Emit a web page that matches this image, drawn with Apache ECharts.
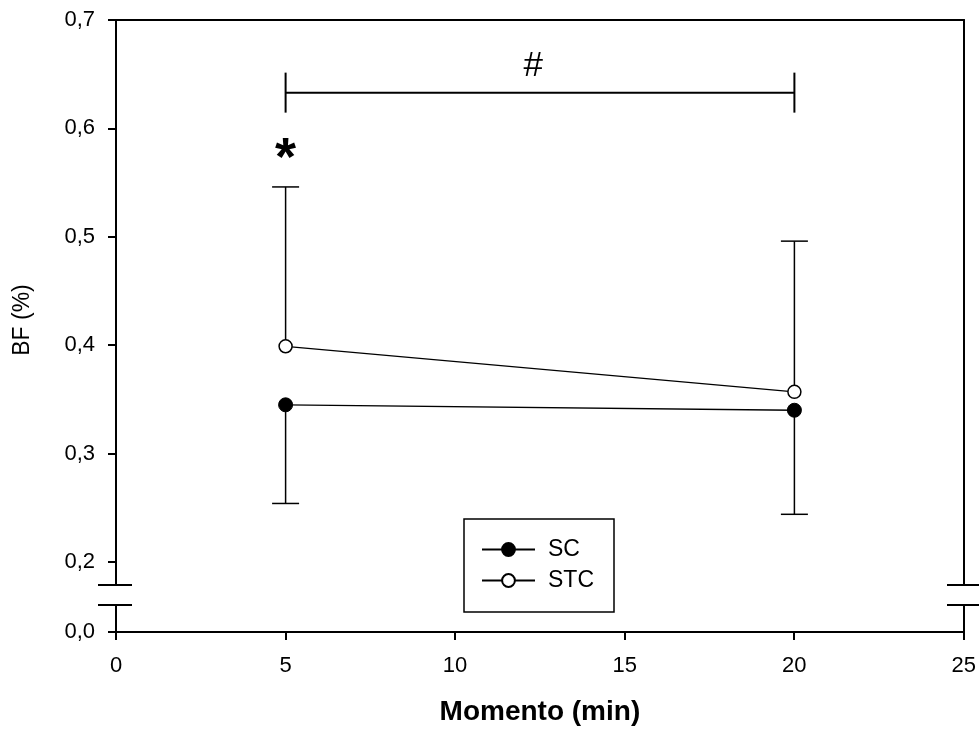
<!DOCTYPE html>
<html>
<head>
<meta charset="utf-8">
<script src="https://cdn.jsdelivr.net/npm/echarts@6/dist/echarts.min.js"></script>
<style>
  html, body { margin: 0; padding: 0; background: #fff; }
  #chart { width: 979px; height: 733px; }
</style>
</head>
<body>
<div id="chart"></div>
<script>
// Blood flow (BF, %) at two time points, mean with one-sided SD bars
const times = [5, 20];
const seriesNames = ['SC', 'STC'];
const scMean = [0.345, 0.340];
const scSD = [0.091, 0.096];
const stcMean = [0.399, 0.357];
const stcSD = [0.147, 0.139];

// Axis ticks
const xTicks = [0, 5, 10, 15, 20, 25];
const yTicksUpper = [0.2, 0.3, 0.4, 0.5, 0.6, 0.7];
const yTicksLower = [0.0];

// Annotations: bracket between the two times, and a marker over the first time
const bracket = [5, 20, 0.633];
const bracketLabel = '#';
const bracketLabelPos = [12.3, 0.657];
const starLabel = '*';
const starPos = [5, 0.571];

// Layout (pixels)
const FONT = 'Liberation Sans, Arial, sans-serif';
const GRID_L = 116, GRID_R = 15;
const UPPER_TOP = 20, UPPER_BOTTOM = 585;
const LOWER_TOP = 605, LOWER_BOTTOM = 632;
const Y_MAX = 0.7, PX_PER_UNIT = 1084;
const yUpperMin = Y_MAX - (UPPER_BOTTOM - UPPER_TOP) / PX_PER_UNIT;
const W = 979;

const fmt = v => v.toFixed(1).replace('.', ',');

const chart = echarts.init(document.getElementById('chart'), null, { renderer: 'canvas' });

function renderErrorBar(params, api) {
  const x = api.value(0);
  const p0 = api.coord([x, api.value(1)]);
  const p1 = api.coord([x, api.value(2)]);
  const cap = 13.5;
  const style = { stroke: '#000', lineWidth: 1.5 };
  return {
    type: 'group',
    children: [
      { type: 'line', shape: { x1: p0[0], y1: p0[1], x2: p1[0], y2: p1[1] }, style },
      { type: 'line', shape: { x1: p1[0] - cap, y1: p1[1], x2: p1[0] + cap, y2: p1[1] }, style }
    ]
  };
}

function renderBracket(params, api) {
  const a = api.coord([api.value(0), api.value(2)]);
  const b = api.coord([api.value(1), api.value(2)]);
  const h = 20;
  const style = { stroke: '#000', lineWidth: 2 };
  return {
    type: 'group',
    children: [
      { type: 'line', shape: { x1: a[0], y1: a[1], x2: b[0], y2: b[1] }, style },
      { type: 'line', shape: { x1: a[0], y1: a[1] - h, x2: a[0], y2: a[1] + h }, style },
      { type: 'line', shape: { x1: b[0], y1: b[1] - h, x2: b[0], y2: b[1] + h }, style }
    ]
  };
}

function renderText(params, api) {
  const p = api.coord([api.value(0), api.value(1)]);
  const d = params.dataIndex === 0
    ? { text: bracketLabel, fontSize: 35, fontWeight: 'normal' }
    : { text: starLabel, fontSize: 54, fontWeight: 'bold' };
  return {
    type: 'text',
    x: p[0], y: p[1],
    style: {
      text: d.text, fontSize: d.fontSize, fontWeight: d.fontWeight, fontFamily: FONT,
      fill: '#000', align: 'center', verticalAlign: 'middle'
    }
  };
}

const axisLine = { show: true, lineStyle: { color: '#000', width: 2 } };
const labelStyle = { color: '#000', fontSize: 22, fontFamily: FONT };

const option = {
  animation: false,
  backgroundColor: '#fff',
  grid: [
    { left: GRID_L, right: GRID_R, top: UPPER_TOP, height: UPPER_BOTTOM - UPPER_TOP },
    { left: GRID_L, right: GRID_R, top: LOWER_TOP, height: LOWER_BOTTOM - LOWER_TOP }
  ],
  xAxis: [
    {
      gridIndex: 0, type: 'value', min: 0, max: 25, position: 'top',
      axisLine, axisTick: { show: false }, axisLabel: { show: false }, splitLine: { show: false }
    },
    {
      gridIndex: 1, type: 'value', min: 0, max: 25, interval: 5, position: 'bottom',
      axisLine,
      axisTick: { show: true, length: 8, lineStyle: { color: '#000', width: 2 }, customValues: xTicks },
      axisLabel: { ...labelStyle, margin: 23, customValues: xTicks },
      splitLine: { show: false },
      name: 'Momento (min)', nameLocation: 'middle', nameGap: 66,
      nameTextStyle: { color: '#000', fontSize: 28, fontWeight: 'bold', fontFamily: FONT }
    }
  ],
  yAxis: [
    {
      gridIndex: 0, type: 'value', min: yUpperMin, max: Y_MAX, position: 'left',
      axisLine,
      axisTick: { show: true, length: 8, lineStyle: { color: '#000', width: 2 }, customValues: yTicksUpper },
      axisLabel: { ...labelStyle, margin: 21, customValues: yTicksUpper, formatter: fmt },
      splitLine: { show: false }
    },
    {
      gridIndex: 0, type: 'value', min: yUpperMin, max: Y_MAX, position: 'right',
      axisLine, axisTick: { show: false }, axisLabel: { show: false }, splitLine: { show: false }
    },
    {
      gridIndex: 1, type: 'value', min: 0, max: 1, position: 'left',
      axisLine,
      axisTick: { show: true, length: 8, lineStyle: { color: '#000', width: 2 }, customValues: yTicksLower },
      axisLabel: { ...labelStyle, margin: 21, customValues: yTicksLower, formatter: fmt },
      splitLine: { show: false }
    },
    {
      gridIndex: 1, type: 'value', min: 0, max: 1, position: 'right',
      axisLine, axisTick: { show: false }, axisLabel: { show: false }, splitLine: { show: false }
    }
  ],
  legend: {
    data: seriesNames,
    orient: 'vertical',
    left: 464, top: 519,
    padding: [19, 20, 20, 17],
    itemWidth: 53, itemHeight: 16, itemGap: 8,
    borderColor: '#000', borderWidth: 1.5,
    textStyle: { color: '#000', fontSize: 23, fontFamily: FONT, lineHeight: 22, padding: [0, 0, 0, 8] }
  },
  series: [
    {
      type: 'custom', name: 'SC-err', xAxisIndex: 0, yAxisIndex: 0, z: 1,
      renderItem: renderErrorBar,
      data: times.map((t, i) => [t, scMean[i], scMean[i] - scSD[i]])
    },
    {
      type: 'custom', name: 'STC-err', xAxisIndex: 0, yAxisIndex: 0, z: 1,
      renderItem: renderErrorBar,
      data: times.map((t, i) => [t, stcMean[i], stcMean[i] + stcSD[i]])
    },
    {
      type: 'line', name: seriesNames[0], xAxisIndex: 0, yAxisIndex: 0, z: 3,
      data: times.map((t, i) => [t, scMean[i]]),
      symbol: 'circle', symbolSize: 14,
      lineStyle: { color: '#000', width: 1.3 },
      itemStyle: { color: '#000', borderColor: '#000', borderWidth: 1 }
    },
    {
      type: 'line', name: seriesNames[1], xAxisIndex: 0, yAxisIndex: 0, z: 3,
      data: times.map((t, i) => [t, stcMean[i]]),
      symbol: 'circle', symbolSize: 13,
      lineStyle: { color: '#000', width: 1.3 },
      itemStyle: { color: '#fff', borderColor: '#000', borderWidth: 1.5 }
    },
    {
      type: 'custom', name: 'bracket', xAxisIndex: 0, yAxisIndex: 0, z: 2,
      renderItem: renderBracket,
      data: [bracket]
    },
    {
      type: 'custom', name: 'marks', xAxisIndex: 0, yAxisIndex: 0, z: 2,
      renderItem: renderText,
      data: [bracketLabelPos, starPos]
    }
  ],
  graphic: [
    // axis break marks on both sides
    { type: 'line', shape: { x1: GRID_L - 18, y1: UPPER_BOTTOM, x2: GRID_L + 16, y2: UPPER_BOTTOM }, style: { stroke: '#000', lineWidth: 2 } },
    { type: 'line', shape: { x1: GRID_L - 18, y1: LOWER_TOP, x2: GRID_L + 16, y2: LOWER_TOP }, style: { stroke: '#000', lineWidth: 2 } },
    { type: 'line', shape: { x1: W - GRID_R - 17, y1: UPPER_BOTTOM, x2: W - GRID_R + 17, y2: UPPER_BOTTOM }, style: { stroke: '#000', lineWidth: 2 } },
    { type: 'line', shape: { x1: W - GRID_R - 17, y1: LOWER_TOP, x2: W - GRID_R + 17, y2: LOWER_TOP }, style: { stroke: '#000', lineWidth: 2 } },
    {
      type: 'text', x: 23, y: 320, rotation: Math.PI / 2,
      style: { text: 'BF (%)', fontSize: 23, fontFamily: FONT, fill: '#000', align: 'center', verticalAlign: 'middle' }
    }
  ]
};

chart.setOption(option);
</script>
</body>
</html>
